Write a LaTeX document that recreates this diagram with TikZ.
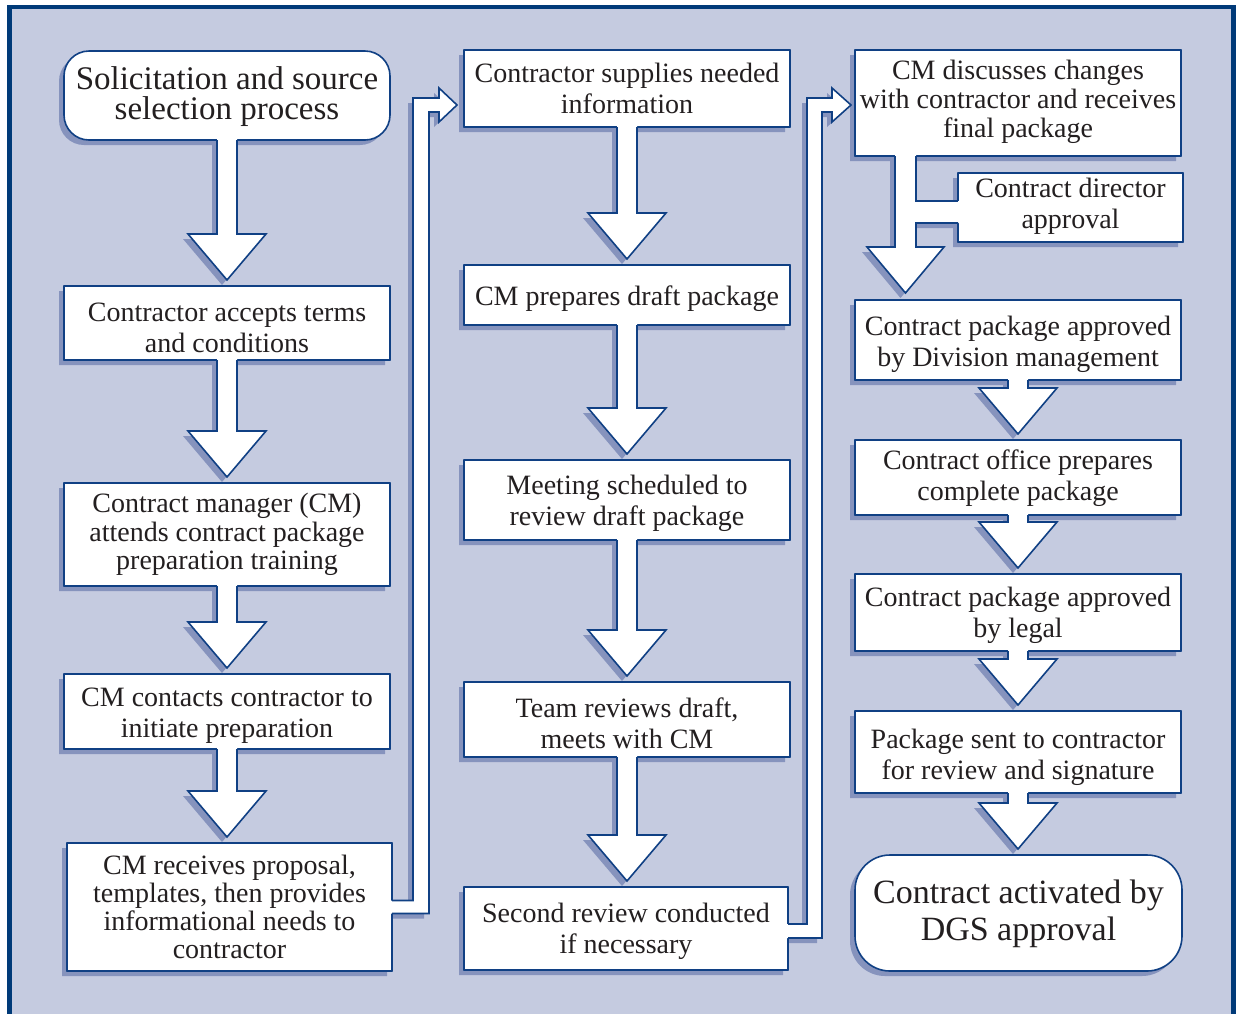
\documentclass[tikz,border=0pt]{standalone}
\usepackage{fontspec}
\setmainfont{Liberation Serif}
\usetikzlibrary{calc}
\definecolor{bgc}{RGB}{197,203,224}
\definecolor{framec}{RGB}{0,58,120}
\definecolor{edgec}{RGB}{16,64,132}
\definecolor{shadowc}{RGB}{134,147,189}
\definecolor{textc}{RGB}{35,31,32}
\pgfdeclarelayer{back}\pgfdeclarelayer{shade}\pgfdeclarelayer{front}
\pgfsetlayers{back,shade,main,front}
\newcommand\nt{\fontsize{28}{31}\selectfont}
\newcommand\ntt{\fontsize{28}{28.5}\selectfont}
\newcommand\ntf{\fontsize{28}{28}\selectfont}
\newcommand\ntd{\fontsize{28}{29}\selectfont}
\newcommand\bigt{\fontsize{33}{30}\selectfont}
\newcommand\bigtt{\fontsize{34}{37}\selectfont}
\tikzset{
  box/.style={draw=edgec, line width=1.6pt, fill=white, anchor=north west,
    inner sep=0pt, outer sep=0pt},
  txt/.style={align=center, text=textc, inner sep=0pt},
  edge/.style={draw=edgec, line width=1.6pt, line join=miter},
}
\newcommand\shadowof[2]{%
  \begin{pgfonlayer}{shade}
  \fill[shadowc, rounded corners=#2] ([shift={(-5pt,-5pt)}]#1.north west) rectangle ([shift={(-5pt,-5pt)}]#1.south east);
  \end{pgfonlayer}}
% name, x, y, w, h, corner radius, font, text shift (pt, negative = down), text
\newcommand\flowbox[9]{%
  \node[box, rounded corners=#6, minimum width=#4pt, minimum height=#5pt] (#1) at (#2,#3) {};
  \node[txt, font=#7] (#1t) at ([yshift=#8pt]#1.center) {#9};
  \shadowof{#1}{#6}}
\newcommand\flowdown[2]{%
  \begin{pgfonlayer}{shade}
  \fill[shadowc] let \p1=(#1.south), \p2=(#2.north) in
    (\x1-15pt,\y1-3pt) -- (\x1-15pt,\y2+47pt) -- (\x1-44pt,\y2+47pt) -- (\x1-5pt,\y2+1pt)
    -- (\x1+34pt,\y2+47pt) -- (\x1+5pt,\y2+47pt) -- (\x1+5pt,\y1-3pt) -- cycle;
  \end{pgfonlayer}
  \begin{pgfonlayer}{front}
  \fill[white] let \p1=(#1.south), \p2=(#2.north) in
    (\x1-10pt,\y1+2pt) -- (\x1-10pt,\y2+52pt) -- (\x1-39pt,\y2+52pt) -- (\x1,\y2+6pt)
    -- (\x1+39pt,\y2+52pt) -- (\x1+10pt,\y2+52pt) -- (\x1+10pt,\y1+2pt) -- cycle;
  \draw[edge] let \p1=(#1.south), \p2=(#2.north) in
    (\x1-10pt,\y1) -- (\x1-10pt,\y2+52pt) -- (\x1-39pt,\y2+52pt) -- (\x1,\y2+6pt)
    -- (\x1+39pt,\y2+52pt) -- (\x1+10pt,\y2+52pt) -- (\x1+10pt,\y1);
  \end{pgfonlayer}}
\begin{document}
\begin{tikzpicture}[x=1pt,y=-1pt]
\useasboundingbox (0,0) rectangle (1236,1013);
\begin{pgfonlayer}{back}
\fill[white] (0,0) rectangle (1236,1013);
\draw[framec, line width=4.5pt, fill=bgc] (9.5,7) rectangle (1233.5,1030);
\end{pgfonlayer}

% column 1
\flowbox{start}{64}{51}{326}{89}{25pt}{\bigt}{-1.5}{Solicitation and source\\selection process}
\flowbox{b2}{64}{286}{326}{74}{0.1pt}{\nt}{-4.5}{Contractor accepts terms\\and conditions}
\flowbox{b3}{64}{483}{326}{103}{0.1pt}{\ntt}{0}{Contract manager (CM)\\attends contract package\\preparation training}
\flowbox{b4}{64}{674}{326}{75}{0.1pt}{\nt}{-4.5}{CM contacts contractor to\\initiate preparation}
\flowbox{b5}{67}{843}{325}{128}{0.1pt}{\ntf}{0}{CM receives proposal,\\templates, then provides\\informational needs to\\contractor}

% column 2
\flowbox{c1}{464}{50}{326}{77}{0.1pt}{\nt}{0}{Contractor supplies needed\\information}
\flowbox{c2}{464}{265}{326}{60}{0.1pt}{\nt}{-4}{CM prepares draft package}
\flowbox{c3}{464}{460}{326}{80}{0.1pt}{\nt}{-3}{Meeting scheduled to\\review draft package}
\flowbox{c4}{464}{682}{326}{75}{0.1pt}{\nt}{-4}{Team reviews draft,\\meets with CM}
\flowbox{c5}{464}{887}{324}{83}{0.1pt}{\nt}{-3}{Second review conducted\\if necessary}

% column 3
\flowbox{d1}{855}{50}{326}{106}{0.1pt}{\ntd}{1}{CM discusses changes\\with contractor and receives\\final package}
\flowbox{dir}{958}{173}{225}{69}{0.1pt}{\nt}{1}{Contract director\\approval}
\flowbox{d2}{855}{300}{326}{80}{0.1pt}{\nt}{-4}{Contract package approved\\by Division management}
\flowbox{d3}{855}{440}{326}{75}{0.1pt}{\nt}{-1}{Contract office prepares\\complete package}
\flowbox{d4}{855}{574}{326}{77}{0.1pt}{\nt}{-3}{Contract package approved\\by legal}
\flowbox{d5}{855}{711}{326}{82}{0.1pt}{\nt}{-5}{Package sent to contractor\\for review and signature}
\flowbox{d6}{855}{855}{327}{116}{35pt}{\bigtt}{-1}{Contract activated by\\DGS approval}

% straight connectors
\flowdown{start}{b2}
\flowdown{b2}{b3}
\flowdown{b3}{b4}
\flowdown{b4}{b5}
\flowdown{c1}{c2}
\flowdown{c2}{c3}
\flowdown{c3}{c4}
\flowdown{c4}{c5}
\flowdown{d2}{d3}
\flowdown{d3}{d4}
\flowdown{d4}{d5}
\flowdown{d5}{d6}

% elbow b5 -> c1
\begin{pgfonlayer}{shade}
\fill[shadowc] let \p1=(b5.east), \p2=(c1.west) in
  (\x1-7pt,\y1+1.5pt) -- (\x1+16pt,\y1+1.5pt) -- (\x1+16pt,\y2-14.5pt) -- (\x2-30pt,\y2-14.5pt)
  -- (\x2-30pt,\y2-4.5pt) -- (\x2-12pt,\y2-21.5pt) -- (\x2-30pt,\y2-38.5pt) -- (\x2-30pt,\y2-28.5pt)
  -- (\x1+32pt,\y2-28.5pt) -- (\x1+32pt,\y1-11.5pt) -- (\x1-7pt,\y1-11.5pt) -- cycle;
\end{pgfonlayer}
\begin{pgfonlayer}{front}
\fill[white] let \p1=(b5.east), \p2=(c1.west) in
  (\x1-2pt,\y1+6.5pt) -- (\x1+21pt,\y1+6.5pt) -- (\x1+21pt,\y2-9.5pt) -- (\x2-25pt,\y2-9.5pt)
  -- (\x2-25pt,\y2+0.5pt) -- (\x2-7pt,\y2-16.5pt) -- (\x2-25pt,\y2-33.5pt) -- (\x2-25pt,\y2-23.5pt)
  -- (\x1+37pt,\y2-23.5pt) -- (\x1+37pt,\y1-6.5pt) -- (\x1-2pt,\y1-6.5pt) -- cycle;
\draw[edge] let \p1=(b5.east), \p2=(c1.west) in
  (\x1,\y1+6.5pt) -- (\x1+21pt,\y1+6.5pt) -- (\x1+21pt,\y2-9.5pt) -- (\x2-25pt,\y2-9.5pt)
  -- (\x2-25pt,\y2+0.5pt) -- (\x2-7pt,\y2-16.5pt) -- (\x2-25pt,\y2-33.5pt) -- (\x2-25pt,\y2-23.5pt)
  -- (\x1+37pt,\y2-23.5pt) -- (\x1+37pt,\y1-6.5pt) -- (\x1,\y1-6.5pt);
\end{pgfonlayer}

% elbow c5 -> d1
\begin{pgfonlayer}{shade}
\fill[shadowc] let \p1=(c5.east), \p2=(d1.west) in
  (\x1-7pt,\y1-0.5pt) -- (\x1+14pt,\y1-0.5pt) -- (\x1+14pt,\y2) -- (\x2-28pt,\y2)
  -- (\x2-28pt,\y2+10pt) -- (\x2-9pt,\y2-7pt) -- (\x2-28pt,\y2-24pt) -- (\x2-28pt,\y2-14pt)
  -- (\x1+29pt,\y2-14pt) -- (\x1+29pt,\y1-14.5pt) -- (\x1-7pt,\y1-14.5pt) -- cycle;
\end{pgfonlayer}
\begin{pgfonlayer}{front}
\fill[white] let \p1=(c5.east), \p2=(d1.west) in
  (\x1-2pt,\y1+4.5pt) -- (\x1+19pt,\y1+4.5pt) -- (\x1+19pt,\y2+5pt) -- (\x2-23pt,\y2+5pt)
  -- (\x2-23pt,\y2+15pt) -- (\x2-4pt,\y2-2pt) -- (\x2-23pt,\y2-19pt) -- (\x2-23pt,\y2-9pt)
  -- (\x1+34pt,\y2-9pt) -- (\x1+34pt,\y1-9.5pt) -- (\x1-2pt,\y1-9.5pt) -- cycle;
\draw[edge] let \p1=(c5.east), \p2=(d1.west) in
  (\x1,\y1+4.5pt) -- (\x1+19pt,\y1+4.5pt) -- (\x1+19pt,\y2+5pt) -- (\x2-23pt,\y2+5pt)
  -- (\x2-23pt,\y2+15pt) -- (\x2-4pt,\y2-2pt) -- (\x2-23pt,\y2-19pt) -- (\x2-23pt,\y2-9pt)
  -- (\x1+34pt,\y2-9pt) -- (\x1+34pt,\y1-9.5pt) -- (\x1,\y1-9.5pt);
\end{pgfonlayer}

% d1 -> d2 with branch to director approval
\begin{pgfonlayer}{shade}
\fill[shadowc] let \p1=(d1.south west), \p2=(dir.west), \p3=(d2.north) in
  (\x1+35pt,\y1-3pt) -- (\x1+35pt,\y3+48pt) -- (\x1+7pt,\y3+48pt) -- (\x1+45.5pt,\y3+2pt)
  -- (\x1+84pt,\y3+48pt) -- (\x1+56pt,\y3+48pt) -- (\x1+56pt,\y2-20.5pt) -- (\x2-3pt,\y2-20.5pt)
  -- (\x2-3pt,\y2+1.5pt) -- (\x1+56pt,\y2+1.5pt) -- (\x1+56pt,\y1-3pt) -- cycle;
\end{pgfonlayer}
\begin{pgfonlayer}{front}
\fill[white] let \p1=(d1.south west), \p2=(dir.west), \p3=(d2.north) in
  (\x1+40pt,\y1+2pt) -- (\x1+40pt,\y3+53pt) -- (\x1+12pt,\y3+53pt) -- (\x1+50.5pt,\y3+7pt)
  -- (\x1+89pt,\y3+53pt) -- (\x1+61pt,\y3+53pt) -- (\x1+61pt,\y2-15.5pt) -- (\x2+2pt,\y2-15.5pt)
  -- (\x2+2pt,\y2+6.5pt) -- (\x1+61pt,\y2+6.5pt) -- (\x1+61pt,\y1+2pt) -- cycle;
\draw[edge] let \p1=(d1.south west), \p2=(dir.west) in
  (\x1+61pt,\y1) -- (\x1+61pt,\y2+6.5pt) -- (\x2,\y2+6.5pt);
\draw[edge] let \p1=(d1.south west), \p2=(dir.west), \p3=(d2.north) in
  (\x2,\y2-15.5pt) -- (\x1+61pt,\y2-15.5pt) -- (\x1+61pt,\y3+53pt) -- (\x1+89pt,\y3+53pt)
  -- (\x1+50.5pt,\y3+7pt) -- (\x1+12pt,\y3+53pt) -- (\x1+40pt,\y3+53pt) -- (\x1+40pt,\y1);
\end{pgfonlayer}
\end{tikzpicture}
\end{document}
